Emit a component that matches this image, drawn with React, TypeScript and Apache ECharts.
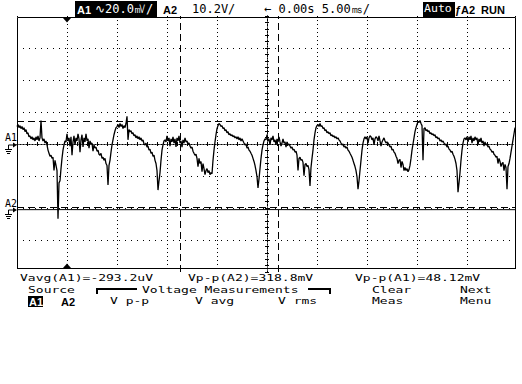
import React, { useEffect, useRef } from "react";
import * as echarts from "echarts";

// Channel A1 samples in mV, one sample every 0.1 ms starting at -25 ms
const A1_START_MS = -25;
const A1_STEP_MS = 0.1;
const a1SamplesMv = [
  10.9, 12.2, 10.2, 11.5, 9.6, 10.9, 9.0, 10.2, 7.7, 9.0,
  6.4, 7.0, 4.5, 5.1, 3.2, 4.5, 2.6, 3.8, 1.9, 4.5,
  2.6, 5.1, 1.9, 3.8, 14.7, 3.8, 1.9, 3.2, 0.6, 1.9,
  -0.6, -3.8, -5.8, -7.7, -7.0, -9.0, -8.3, -16.6, -10.2, -13.4,
  -16.6, -46.7, -24.3, -23.0, -15.4, -9.0, -3.8, -0.6, 1.9, 1.3,
  6.4, 1.9, 3.8, -1.3, 4.5, -7.0, 1.3, 5.1, -0.6, 3.8,
  1.9, 6.4, 3.2, -5.1, 2.6, 5.8, -1.9, 3.8, 1.3, 6.4,
  1.9, 3.2, -2.6, 1.9, 0, 0.6, -4.5, -0.6, -2.6, -1.9,
  -4.5, -3.8, -6.4, -7.0, -5.8, -9.0, -8.3, -10.2, -9.0, -12.2,
  -13.4, -25.6, -13.4, -10.2, -5.1, -0.6, 2.6, 5.8, 8.3, 10.2,
  10.9, 12.2, 10.2, 12.8, 10.9, 12.2, 9.6, 11.5, 10.2, 12.8,
  17.3, 2.6, 9.0, 7.7, 8.3, 6.4, 7.0, 5.1, 5.8, 3.8,
  5.1, 3.2, 4.5, 2.6, 3.8, 1.9, 2.6, 0, -0.6, 0.6,
  -1.9, -1.3, -3.8, -3.2, -5.8, -5.1, -7.7, -7.0, -10.2, -12.2,
  -16.6, -28.8, -23.0, -17.9, -10.2, -3.8, -0.6, 1.9, 2.6, 1.3,
  5.1, 1.9, 3.8, -1.3, 3.2, 1.3, 4.5, 0.6, 3.2, -1.9,
  3.8, 1.9, 5.1, 0.6, 1.9, -1.9, 2.6, 0.6, 3.8, 1.3,
  1.9, 0, 0.6, -1.3, -2.6, -1.9, -4.5, -5.8, -7.0, -6.4,
  -9.0, -14.1, -9.0, -12.2, -10.9, -17.3, -12.2, -15.4, -19.2, -16.6,
  -15.4, -17.9, -16.6, -19.2, -17.9, -18.6, -10.2, -3.8, 1.3, 5.8,
  9.6, 11.5, 12.8, 12.2, 10.9, 11.5, 9.6, 10.2, 8.3, 9.0,
  7.0, 7.7, 5.8, 6.4, 5.1, 5.8, 4.5, 5.1, 3.8, 4.5,
  3.2, 4.5, 2.6, 3.8, 1.9, 3.2, 1.9, 0.6, -0.6, 0,
  -2.6, -1.9, -3.8, -4.5, -5.8, -7.0, -9.0, -10.9, -13.4, -16.6,
  -20.5, -27.5, -21.8, -15.4, -9.0, -3.8, -0.6, 1.9, 3.2, 2.6,
  5.8, 1.9, 3.2, -0.6, 3.8, 2.6, 5.1, 1.3, 2.6, -0.6,
  3.2, 1.3, 4.5, 1.3, -1.3, 0.6, 3.2, 0.6, 1.3, -1.9,
  1.3, -0.6, 0, -1.3, -2.6, -1.9, -3.8, -3.2, -5.1, -4.5,
  -7.0, -16.6, -9.0, -8.3, -10.2, -9.6, -11.5, -19.8, -12.8, -12.2,
  -14.1, -13.4, -16.0, -26.2, -14.7, -9.0, -3.8, 2.6, 7.0, 10.2,
  11.5, 12.2, 10.9, 12.8, 10.9, 11.5, 9.6, 10.2, 8.3, 9.0,
  7.0, 7.7, 6.4, 7.0, 5.1, 5.8, 4.5, 5.1, 3.8, 4.5,
  3.2, 3.8, 2.6, 1.9, 0.6, -0.6, 0, -1.9, -1.3, -2.6,
  -1.9, -3.8, -4.5, -5.8, -7.0, -8.3, -10.2, -12.2, -14.1, -16.6,
  -20.5, -28.2, -23.0, -16.6, -10.2, -3.8, 0.6, 3.2, 4.5, 3.2,
  4.5, 0.6, 3.8, 5.1, 4.5, 2.6, 3.8, -0.6, 3.2, 4.5,
  3.8, 1.9, 5.1, 1.9, -1.3, 1.3, 2.6, 3.8, 1.9, 0.6,
  1.3, 0.6, -0.6, -1.9, -1.3, -3.8, -3.2, -5.1, -5.8, -7.7,
  -9.0, -12.2, -10.2, -9.6, -14.7, -10.9, -12.8, -16.6, -14.7, -16.6,
  -15.4, -17.3, -16.0, -13.4, -9.0, -3.8, 0, 3.8, 7.7, 10.2,
  12.2, 14.1, 13.4, 14.7, 12.8, 11.5, -10.2, 9.6, 10.2, 8.3,
  9.0, 7.7, 8.3, 6.4, 7.0, 5.8, 6.4, 5.1, 5.8, 3.8,
  4.5, 3.2, 3.8, 1.9, 2.6, 1.3, 1.9, 0.6, -0.6, 0,
  -1.9, -1.3, -3.2, -3.8, -5.1, -4.5, -6.4, -7.7, -9.6, -12.2,
  -16.6, -30.1, -24.3, -17.9, -10.2, -3.8, 0.6, 3.2, 3.8, 2.6,
  4.5, 1.3, 4.5, 2.6, 5.1, 0.6, 3.8, 1.9, 4.5, 2.6,
  3.8, -0.6, 3.2, 1.3, 3.8, 0.6, 1.9, -1.3, 1.3, -0.6,
  0, -1.9, -1.3, -3.2, -3.8, -5.1, -4.5, -6.4, -7.0, -8.3,
  -7.7, -12.2, -9.0, -10.9, -14.1, -12.2, -11.5, -16.6, -12.8, -14.7,
  -28.2, -14.1, -12.2, -9.0, -5.1, -1.3, 2.6, 6.4, 10.2,
];

// Channel A2 samples (V)
const a2TimesMs = [-25, -20, -15, -10, -5, 0, 5, 10, 15, 20, 25];
const a2SamplesV = [0.1, 0.12, 0.09, 0.11, 0.1, 0.13, 0.09, 0.11, 0.1, 0.12, 0.1];

// Cursors and trigger
const timeCursorsMs = [-8.7, 1.1];
const levelCursorsMv = [14.4, -39.4];
const triggerTimeMs = -20;

// Scales
const A1_MV_PER_DIV = 20;
const A2_V_PER_DIV = 10.2;
const A2_GROUND_DIV = -2.0625;
const TIME_MIN = -25;
const TIME_MAX = 24.8;
const TIME_PER_DIV = 5;

// Texts
const headerLabels = ["A1", "∿20.0㎷/", "A2", "10.2V/", "← 0.00s 5.00㎳/", "Auto", "ƒA2", "RUN"];
const measurementLabels = ["Vavg(A1)=-293.2uV", "Vp-p(A2)=318.8mV", "Vp-p(A1)=48.12mV"];
const menuTopLabels = ["Source", "Voltage Measurements", "Clear", "Next"];
const menuBottomLabels = ["A1", "A2", "V p-p", "V avg", "V rms", "Meas", "Menu"];
const channelMarkers = ["A1", "A2"];

const MONO = "'DejaVu Sans Mono', monospace";
const BOLD = "'Liberation Sans', Arial, sans-serif";
const F = `9.5px ${MONO}`;
const FB = `bold 11px ${BOLD}`;
const FH = `12px ${MONO}`;
const FS = `10px ${MONO}`;

function txt(text: string, x: number, y: number, font: string, fill = "#000", scaleX = 1) {
  return {
    type: "text",
    z: 100,
    x,
    y,
    scaleX,
    style: { text, x: 0, y: 0, font, fill, verticalAlign: "middle" },
  };
}
function mtxt(text: string, x: number, y: number) {
  return txt(text, x, y, F, "#000", 1.37);
}
function blk(x: number, y: number, w: number, h: number) {
  return { type: "rect", z: 99, shape: { x, y, width: w, height: h }, style: { fill: "#000" } };
}
function ln(x1: number, y1: number, x2: number, y2: number, w = 1) {
  return { type: "line", z: 100, shape: { x1, y1, x2, y2 }, style: { stroke: "#000", lineWidth: w } };
}
function groundMarker(label: string, yText: number, yArrow: number) {
  return [
    txt(label, 5, yText, FS),
    ln(8.5, yArrow, 14, yArrow),
    { type: "polygon", z: 100, shape: { points: [[13, yArrow - 2.5], [17, yArrow], [13, yArrow + 2.5]] }, style: { fill: "#000" } },
    ln(8.5, yArrow, 8.5, yArrow + 4),
    ln(5, yArrow + 4.5, 12, yArrow + 4.5),
    ln(6, yArrow + 6.5, 11, yArrow + 6.5),
    ln(7, yArrow + 8.5, 10, yArrow + 8.5),
  ];
}

export default function App() {
  const ref = useRef<HTMLDivElement>(null);
  useEffect(() => {
    const chart = echarts.init(ref.current!, null, { renderer: "svg" });
    const a1Data = a1SamplesMv.map((v, i) => [A1_START_MS + i * A1_STEP_MS, v]);
    const a2Data = a2SamplesV.map((v, i) => [a2TimesMs[i], v]);
    const a2Min = (-4 - A2_GROUND_DIV) * A2_V_PER_DIV;
    const a2Max = (4 - A2_GROUND_DIV) * A2_V_PER_DIV;
    const black = { color: "#000" };
    const centerTickX = {
      type: "value", min: TIME_MIN, max: TIME_MAX, interval: TIME_PER_DIV,
      axisLine: { onZero: true, onZeroAxisIndex: 0, lineStyle: { color: "#000", type: [1, 2] } },
      axisTick: { show: true, length: 2, lineStyle: black },
      minorTick: { show: true, splitNumber: 5, length: 2, lineStyle: black },
      axisLabel: { show: false },
    };
    const centerTickY = {
      type: "value", min: -4 * A1_MV_PER_DIV, max: 4 * A1_MV_PER_DIV, interval: A1_MV_PER_DIV,
      axisLine: { onZero: true, onZeroAxisIndex: 0, lineStyle: { color: "#000", type: [1, 2] } },
      axisTick: { show: true, length: 2, lineStyle: black },
      minorTick: { show: true, splitNumber: 5, length: 2, lineStyle: black },
      axisLabel: { show: false },
    };

    const graphics: any[] = [
      // plot border
      { type: "rect", z: 100, shape: { x: 17.5, y: 17.5, width: 498, height: 251 }, style: { fill: "none", stroke: "#000", lineWidth: 1 } },
      // header
      blk(75, 1, 82, 16),
      txt(headerLabels[0], 77, 9.5, FB, "#fff"),
      txt(headerLabels[1], 95, 9, FH, "#fff"),
      txt(headerLabels[2], 163, 9.5, FB),
      txt(headerLabels[3], 192, 9, FH),
      txt(headerLabels[4], 264, 9, FH),
      blk(423, 2, 32, 15),
      txt(headerLabels[5], 424, 9, `11px ${MONO}`, "#fff", 1.05),
      txt(headerLabels[6], 455, 9.5, FB),
      txt(headerLabels[7], 481, 9.5, FB),
      // measurements
      mtxt(measurementLabels[0], 20, 278),
      mtxt(measurementLabels[1], 188, 278),
      mtxt(measurementLabels[2], 355, 278),
      // menu row 1
      mtxt(menuTopLabels[0], 28, 289.5),
      ln(97, 294, 97, 288.5, 2),
      ln(96, 289, 137, 289, 2),
      mtxt(menuTopLabels[1], 142, 289.5),
      ln(308, 289, 331, 289, 2),
      ln(330, 288.5, 330, 294, 2),
      mtxt(menuTopLabels[2], 372, 289.5),
      mtxt(menuTopLabels[3], 460, 289.5),
      // menu row 2
      blk(28, 296, 15, 11),
      txt(menuBottomLabels[0], 29, 301.5, FB, "#fff"),
      txt(menuBottomLabels[1], 61, 301.5, FB),
      mtxt(menuBottomLabels[2], 110, 301),
      mtxt(menuBottomLabels[3], 195, 301),
      mtxt(menuBottomLabels[4], 278, 301),
      mtxt(menuBottomLabels[5], 372, 301),
      mtxt(menuBottomLabels[6], 460, 301),
      // channel ground markers
      ...groundMarker(channelMarkers[0], 137, 145),
      ...groundMarker(channelMarkers[1], 203, 210),
    ];

    chart.setOption({
      animation: false,
      backgroundColor: "#fff",
      grid: { left: 17, top: 16, width: 498, height: 256, containLabel: false },
      xAxis: [
        {
          ...centerTickX,
          position: "bottom",
          splitLine: { show: true, lineStyle: { color: "#000", type: [1, 3] } },
        },
        { ...centerTickX, position: "top", splitLine: { show: false } },
      ],
      yAxis: [
        {
          ...centerTickY,
          position: "left",
          splitLine: { show: true, showMinLine: false, showMaxLine: false, lineStyle: { color: "#000", type: [1, 5] } },
        },
        { type: "value", min: a2Min, max: a2Max, show: false, splitLine: { show: false } },
        { ...centerTickY, position: "right", splitLine: { show: false } },
      ],
      series: [
        {
          name: "A1",
          type: "line",
          xAxisIndex: 0,
          yAxisIndex: 0,
          data: a1Data,
          showSymbol: false,
          symbol: "none",
          lineStyle: { color: "#000", width: 1.3 },
          markLine: {
            silent: true,
            symbol: ["none", "none"],
            label: { show: false },
            lineStyle: { color: "#000", type: [7, 4], width: 1 },
            data: [
              ...timeCursorsMs.map((t) => ({ xAxis: t })),
              ...levelCursorsMv.map((v) => ({ yAxis: v })),
            ],
          },
        },
        {
          name: "A2",
          type: "line",
          xAxisIndex: 0,
          yAxisIndex: 1,
          data: a2Data,
          showSymbol: false,
          symbol: "none",
          lineStyle: { color: "#000", width: 1 },
        },
      ],
      graphic: graphics,
    });

    const tx = chart.convertToPixel({ xAxisIndex: 0 }, triggerTimeMs) as number;
    chart.setOption({
      graphic: [
        ...graphics,
        { type: "polygon", z: 101, shape: { points: [[tx - 4, 18], [tx + 4, 18], [tx, 22.5]] }, style: { fill: "#000" } },
        { type: "polygon", z: 101, shape: { points: [[tx - 4, 268], [tx + 4, 268], [tx, 263.5]] }, style: { fill: "#000" } },
      ],
    });

    return () => chart.dispose();
  }, []);
  return (
    <div
      ref={ref}
      style={{ position: "fixed", left: 0, top: 0, width: 522, height: 384, background: "#fff" }}
    />
  );
}
